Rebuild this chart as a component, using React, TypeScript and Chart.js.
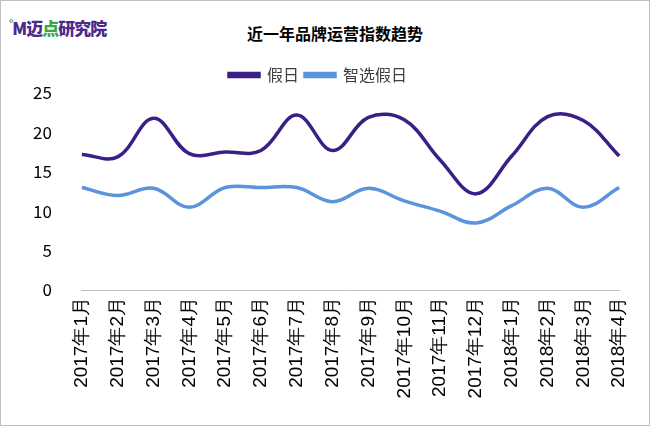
import React, { useEffect, useRef } from "react";
import { Chart, registerables } from "chart.js";
Chart.register(...registerables);

const categories = ["2017年1月","2017年2月","2017年3月","2017年4月","2017年5月","2017年6月","2017年7月","2017年8月","2017年9月","2017年10月","2017年11月","2017年12月","2018年1月","2018年2月","2018年3月","2018年4月"];
const holiday = [17.2, 16.9, 21.8, 17.3, 17.5, 17.7, 22.2, 17.7, 21.9, 21.6, 16.5, 12.2, 17, 22, 21.5, 17];
const zhixuan = [13, 12, 12.9, 10.5, 13, 13, 13, 11.2, 12.9, 11.3, 10, 8.5, 10.7, 12.9, 10.5, 13];
const yTicks = [0, 5, 10, 15, 20, 25];

export default function App() {
  const ref = useRef<HTMLCanvasElement>(null);
  useEffect(() => {
    const font = { family: "'Noto Sans CJK SC', sans-serif", size: 16 };
    const chart = new Chart(ref.current!, {
      type: "line",
      data: {
        labels: categories,
        datasets: [
          { label: "假日", data: holiday, borderColor: "#3a1f86", backgroundColor: "#3a1f86", borderWidth: 3.5, pointRadius: 0, tension: 0.38 },
          { label: "智选假日", data: zhixuan, borderColor: "#5b93dd", backgroundColor: "#5b93dd", borderWidth: 3.5, pointRadius: 0, tension: 0.38 },
        ],
      },
      options: {
        animation: false,
        responsive: false,
        layout: { padding: { left: 10, right: 24, top: 60, bottom: 10 } },
        plugins: {
          legend: { labels: { font: { ...font, size: 16 }, color: "#404040", boxWidth: 30, boxHeight: 3, padding: 6 } },
          title: { display: false },
          tooltip: { enabled: false },
        },
        scales: {
          x: {
            grid: { display: false, drawTicks: false },
            border: { color: "#bfbfbf" },
            ticks: { font: { family: "'Liberation Sans', sans-serif", size: 19 }, color: "#000", maxRotation: 90, minRotation: 90, padding: 7 },
            afterFit: (s: any) => { s.height = 125; },
          },
          y: {
            min: 0, max: 25,
            afterBuildTicks: (s: any) => { s.ticks = yTicks.map((v) => ({ value: v })); },
            grid: { display: false },
            border: { display: false },
            ticks: { font: { ...font, size: 17 }, color: "#000", padding: 22 },
            afterFit: (s: any) => { s.paddingTop = 0; },
          },
        },
      },
      plugins: [{ id: "shiftTop", afterLayout: () => {} }],
    });
    return () => chart.destroy();
  }, []);
  return (
    <div style={{ position: "fixed", left: 0, top: 0, width: 648, height: 424, border: "1px solid #bfbfbf", background: "#fff" }}>
      <div style={{ position: "absolute", left: 8, top: 14, fontFamily: "'Noto Sans CJK SC'", fontWeight: 900, fontSize: 17, color: "#4b2a8a", letterSpacing: -1 }}>
        <span style={{ color: "#3aa845", fontSize: 10, verticalAlign: "top" }}>°</span>M迈<span style={{ color: "#3aa845" }}>点</span>研究院
      </div>
      <div style={{ position: "absolute", left: 0, width: 648, textAlign: "center", top: 20, fontFamily: "'Noto Sans CJK SC'", fontWeight: 700, fontSize: 16, color: "#000", paddingLeft: 10 }}>
        近一年品牌运营指数趋势
      </div>
      <canvas ref={ref} width={648} height={424} style={{ position: "absolute", left: 0, top: 0 }} />
    </div>
  );
}
